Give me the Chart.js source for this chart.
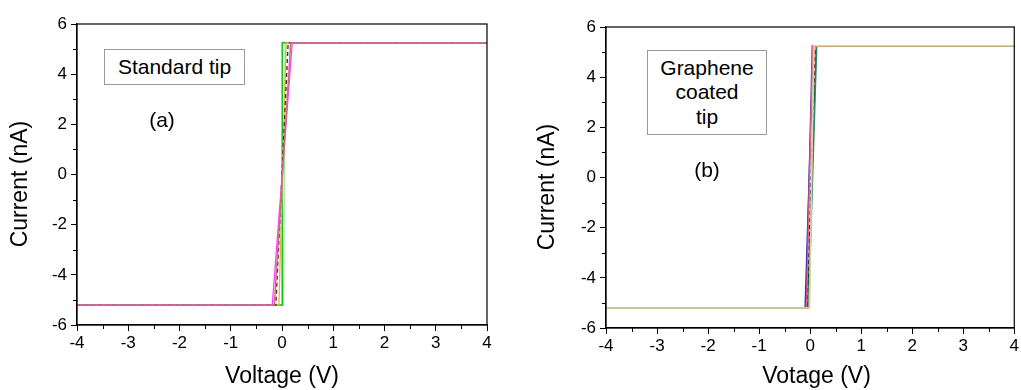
<!DOCTYPE html>
<html><head><meta charset="utf-8">
<script src="https://cdn.jsdelivr.net/npm/chart.js@4.4.0/dist/chart.umd.min.js"></script>
<style>
html,body{margin:0;padding:0;background:#fff;width:1021px;height:390px;overflow:hidden;font-family:"Liberation Sans",Arial,sans-serif;}
#wrap{position:relative;width:1021px;height:390px;}
canvas{position:absolute;top:0;}
.note{position:absolute;font-size:21px;color:#000;text-align:center;line-height:24px;}
.box{border:1px solid #9a9a9a;box-sizing:border-box;display:flex;align-items:center;justify-content:center;flex-direction:column;background:#fff;}
</style></head>
<body><div id="wrap">
<canvas id="ca" width="510" height="390" style="left:0"></canvas>
<canvas id="cb" width="511" height="390" style="left:510px"></canvas>
<div class="note box" style="left:104px;top:49px;width:141px;height:36px;">Standard tip</div>
<div class="note" style="left:132px;top:108px;width:60px;">(a)</div>
<div class="note box" style="left:647px;top:50px;width:120px;height:85px;line-height:24.5px;"><span>Graphene</span><span>coated</span><span>tip</span></div>
<div class="note" style="left:677px;top:158px;width:60px;">(b)</div>
</div>
<script>
// ---- Data: panel (a) standard tip, I-V traces (V in volts, I in nA) ----
const stdLightGreenV = [-4, 0.03, 0.06, 4];
const stdLightGreenI = [-5.2, -5.2, 5.25, 5.25];
const stdGreenV = [-4, 0.0, 0.005, 4];
const stdGreenI = [-5.2, -5.2, 5.25, 5.25];
const stdOliveV = [-4, -0.06, 0.08, 4];
const stdOliveI = [-5.2, -5.2, 5.25, 5.25];
const stdBrownV = [-4, -0.12, 0.12, 4];
const stdBrownI = [-5.2, -5.2, 5.25, 5.25];
const stdMagentaV = [-4, -0.19, 0.2, 4];
const stdMagentaI = [-5.2, -5.2, 5.25, 5.25];
const stdRoseV = [-4, -0.15, 0.17, 4];
const stdRoseI = [-5.2, -5.2, 5.25, 5.25];

// ---- Data: panel (b) graphene coated tip ----
const grBlueV = [-4, -0.1, 0.06, 4];
const grBlueI = [-5.2, -5.2, 5.25, 5.25];
const grPurpleV = [-4, -0.08, 0.04, 4];
const grPurpleI = [-5.2, -5.2, 5.25, 5.25];
const grGreenV = [-4, -0.05, 0.12, 4];
const grGreenI = [-5.2, -5.2, 5.25, 5.25];
const grBlackV = [-4, -0.06, 0.1, 4];
const grBlackI = [-5.2, -5.2, 5.25, 5.25];
const grTealV = [-4, -0.03, 0.13, 4];
const grTealI = [-5.2, -5.2, 5.25, 5.25];
const grPinkV = [-4, -0.07, 0.05, 4];
const grPinkI = [-5.2, -5.2, 5.25, 5.25];
const grOrangeV = [-4, -0.02, 0.08, 4];
const grOrangeI = [-5.2, -5.2, 5.25, 5.25];
const grKhakiV = [-4, -0.01, 0.07, 4];
const grKhakiI = [-5.2, -5.2, 5.25, 5.25];

const xTickValues = [-4, -3, -2, -1, 0, 1, 2, 3, 4];
const yTickValues = [-6, -4, -2, 0, 2, 4, 6];

const FONT = '"Liberation Sans", Arial, sans-serif';

function pts(V, I) { return V.map((v, i) => ({ x: v, y: I[i] })); }
// drawing order: first in list is drawn first (underneath)
function ds(V, I, color, width, dash, k) {
  return { data: pts(V, I), borderColor: color, borderWidth: width || 1.3, borderDash: dash || [],
           showLine: true, pointRadius: 0, fill: false, tension: 0, order: 100 - k };
}

const framePlugin = {
  id: 'frame',
  afterDraw(chart) {
    const { ctx, chartArea: a, scales } = chart;
    ctx.save();
    ctx.strokeStyle = '#000';
    ctx.lineWidth = 1.2;
    ctx.strokeRect(a.left, a.top, a.right - a.left, a.bottom - a.top);
    ctx.lineWidth = 1;
    ctx.beginPath();
    for (let v = -3.5; v < 4; v += 1) {
      const px = Math.round(scales.x.getPixelForValue(v)) + 0.5;
      ctx.moveTo(px, a.bottom); ctx.lineTo(px, a.bottom + 4);
    }
    for (let v = -5; v < 6; v += 2) {
      const py = Math.round(scales.y.getPixelForValue(v)) + 0.5;
      ctx.moveTo(a.left, py); ctx.lineTo(a.left - 4, py);
    }
    ctx.stroke();
    ctx.restore();
  }
};

function makeChart(id, datasets, opt) {
  return new Chart(document.getElementById(id), {
    type: 'scatter',
    data: { datasets },
    plugins: [framePlugin],
    options: {
      responsive: false, animation: false, devicePixelRatio: 1, events: [],
      layout: { padding: { left: 0, top: opt.top, right: opt.right, bottom: 0 } },
      plugins: { legend: { display: false }, tooltip: { enabled: false } },
      scales: {
        x: {
          type: 'linear', min: -4, max: 4,
          afterFit(s) { s.height = opt.xh; },
          afterBuildTicks(s) { s.ticks = xTickValues.map(v => ({ value: v })); },
          ticks: { color: '#000', font: { family: FONT, size: 17 }, padding: 2, maxRotation: 0, callback: v => String(v) },
          grid: { drawOnChartArea: false, tickLength: 6, color: '#000', tickColor: '#000' },
          border: { color: '#000', width: 1.2 },
          title: { display: true, text: opt.xTitle, color: '#000', font: { family: FONT, size: 23 }, padding: { top: 0, bottom: 0 } }
        },
        y: {
          type: 'linear', min: -6, max: 6,
          afterFit(s) { s.width = opt.yw; },
          afterBuildTicks(s) { s.ticks = yTickValues.map(v => ({ value: v })); },
          ticks: { color: '#000', font: { family: FONT, size: 17 }, padding: 4, callback: v => String(v) },
          grid: { drawOnChartArea: false, tickLength: 6, color: '#000', tickColor: '#000' },
          border: { color: '#000', width: 1.2 },
          title: { display: true, text: 'Current (nA)\u00a0\u00a0\u00a0', color: '#000', font: { family: FONT, size: 23 }, padding: { top: opt.ytp, bottom: 0 } }
        }
      }
    }
  });
}

makeChart('ca', [
  ds(stdLightGreenV, stdLightGreenI, '#9ee89e', 1.3, null, 0),
  ds(stdGreenV, stdGreenI, '#1fbf1f', 1.6, null, 1),
  ds(stdOliveV, stdOliveI, '#c8c050', 1.3, null, 2),
  ds(stdBrownV, stdBrownI, '#7a1a1a', 1.4, [4, 3], 3),
  ds(stdMagentaV, stdMagentaI, '#ff40ff', 1.3, null, 4),
  ds(stdRoseV, stdRoseI, '#c46e88', 1.5, null, 5)
], { top: 24, right: 23, xh: 65, yw: 77, ytp: 7, xTitle: 'Voltage (V)' });

makeChart('cb', [
  ds(grBlueV, grBlueI, '#2030c0', 1.3, null, 0),
  ds(grPurpleV, grPurpleI, '#8030a0', 1.3, null, 1),
  ds(grGreenV, grGreenI, '#207020', 1.3, null, 2),
  ds(grBlackV, grBlackI, '#202020', 1.3, [4, 3], 3),
  ds(grTealV, grTealI, '#2a8080', 1.3, null, 4),
  ds(grPinkV, grPinkI, '#e060a0', 1.3, null, 5),
  ds(grOrangeV, grOrangeI, '#f0a040', 1.3, null, 6),
  ds(grKhakiV, grKhakiI, '#d2d8a4', 1.5, null, 7)
], { top: 27, right: 5, xh: 62, yw: 96, ytp: 24, xTitle: '\u00a0\u00a0Votage (V)' });
</script>
</body></html>
